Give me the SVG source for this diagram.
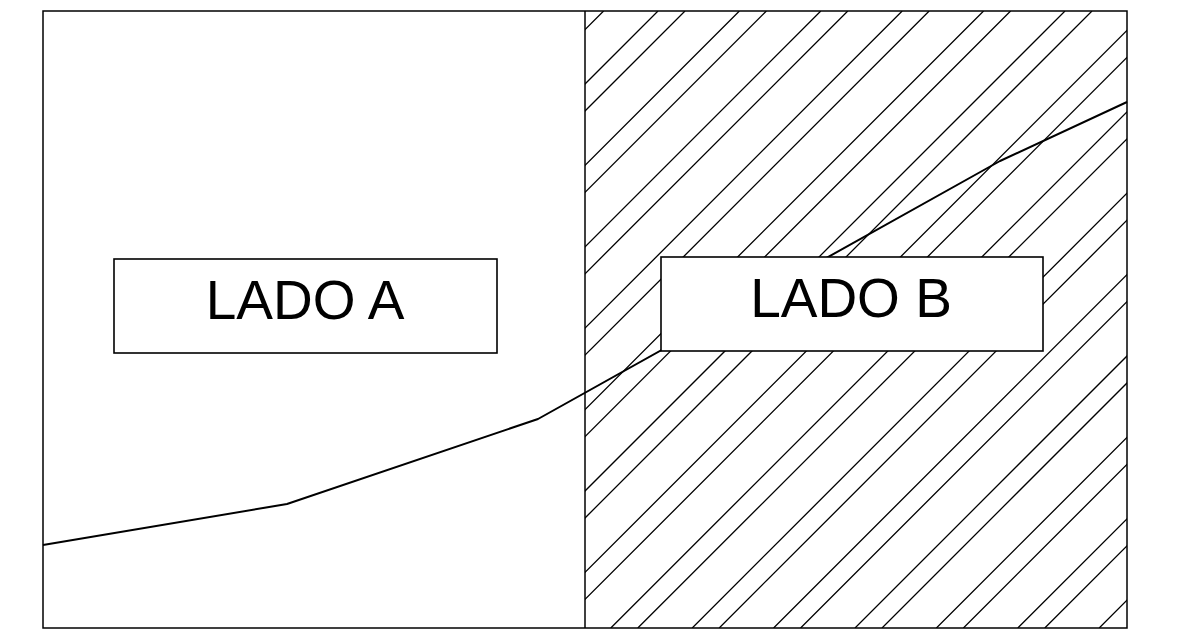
<svg xmlns="http://www.w3.org/2000/svg" width="1177" height="630" viewBox="0 0 1177 630">
<style>
.frame{fill:none;stroke:#000;stroke-width:1.5}
.hatch{fill:none;stroke:#000;stroke-width:1.3}
.curve{fill:none;stroke:#000;stroke-width:2;stroke-linejoin:round}
.box{fill:#fff;stroke:#000;stroke-width:1.6}
.lbl{font-family:"Liberation Sans",Arial,sans-serif;font-size:55px;fill:#000;text-anchor:middle}
</style>
<defs>
<clipPath id="clipB"><rect x="585" y="11" width="542" height="617"/></clipPath>
</defs>
<rect width="1177" height="630" fill="#fff"/>
<g id="hatching" clip-path="url(#clipB)">
<path class="hatch" d="M41 628L658 11M122.4 628L739.4 11M203.8 628L820.8 11M285.2 628L902.2 11M366.6 628L983.6 11M448 628L1065 11M529.4 628L1146.4 11M610.8 628L1227.8 11M692.2 628L1309.2 11M773.6 628L1390.6 11M855 628L1472 11M936.4 628L1553.4 11M1017.8 628L1634.8 11M1099.2 628L1716.2 11M-13.4 628L603.6 11M68 628L685 11M149.4 628L766.4 11M230.8 628L847.8 11M312.2 628L929.2 11M393.6 628L1010.6 11M475 628L1092 11M556.4 628L1173.4 11M637.8 628L1254.8 11M719.2 628L1336.2 11M800.6 628L1417.6 11M882 628L1499 11M963.4 628L1580.4 11M1044.8 628L1661.8 11"/>
</g>
<g id="connectors">
<polyline class="curve" points="43,545 287,504 538,419 1000,161 1127,102"/>
</g>
<g id="frame">
<rect class="frame" x="43" y="11" width="1084" height="617"/>
<line class="frame" x1="585" y1="11" x2="585" y2="628"/>
</g>
<g id="lado-a">
<rect class="box" x="114" y="259" width="383" height="94"/>
<text class="lbl" x="305" y="319">LADO A</text>
</g>
<g id="lado-b">
<rect class="box" x="661" y="257" width="382" height="94"/>
<text class="lbl" x="851" y="317">LADO B</text>
</g>
</svg>
